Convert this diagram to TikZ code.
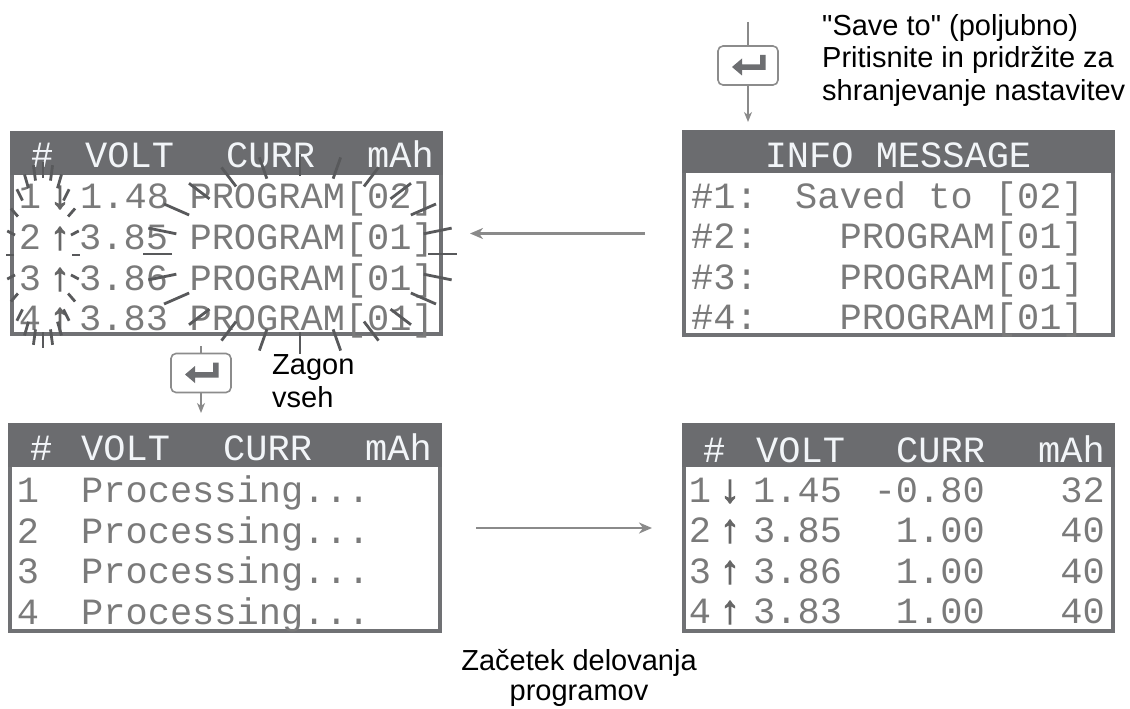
\documentclass[tikz,border=0pt]{standalone}
\usepackage{fontspec}
\setmainfont{Liberation Sans}
\newfontfamily\lblf{Liberation Sans}[Ligatures=TeXOff]
\newfontfamily\lcdf{Liberation Mono}[Ligatures=TeXOff]
\newfontfamily\arrf{Liberation Mono}[FakeBold=3]
\usetikzlibrary{arrows.meta}
\definecolor{hdr}{HTML}{6B6C6F}
\definecolor{lcdtxt}{HTML}{7A7A7A}
\definecolor{hdrtxt}{HTML}{F2F5F8}
\definecolor{framec}{HTML}{707174}
\definecolor{rayc}{HTML}{58595B}
\definecolor{connc}{HTML}{8A8A8A}
\definecolor{keyc}{HTML}{8C8C8C}
\definecolor{symc}{HTML}{6D6E71}
\definecolor{arrc}{HTML}{666666}
\tikzset{
  lcd/.style={font=\lcdf\fontsize{37}{37}\selectfont, text=lcdtxt, inner sep=0pt},
  lcdh/.style={lcd, text=hdrtxt},
  arrg/.style={font=\arrf\fontsize{39}{39}\selectfont, text=arrc, inner sep=0pt, anchor=base},
  lbl/.style={font=\lblf\fontsize{29}{32.5}\selectfont, inner sep=0pt, text=black},
  connline/.style={draw=connc, line width=2.2pt, -{Stealth[length=13pt,width=11pt,inset=4pt]}},
  keyline/.style={draw=connc, line width=1.4pt},
  keyarrow/.style={keyline, -{Stealth[length=10pt,width=8pt,inset=3pt]}},
  enterkey/.style={draw=keyc, line width=1.6pt, rounded corners=5pt, minimum width=60pt, minimum height=39pt, inner sep=0pt, fill=white},
  rayline/.style={draw=rayc, line width=2.8pt},
  lcdframe/.style={draw=framec, line width=4pt, fill=white, inner sep=0pt},
}
\newcommand\mylcdbox[6]{%
  \node[lcdframe, minimum width={(#4)-(#2)-4}, minimum height={(#5)-(#3)-4}] (#1) at ({((#2)+(#4))/2},{((#3)+(#5))/2}) {};
  \fill[hdr] (#2,#3) rectangle (#4,#6);
}
\newcommand\myentersym[1]{%
  \begin{scope}[shift={(#1.center)}]
    \fill[symc] (-16,1.5) -- (-6,-7) -- (-6,-1) -- (12,-1) -- (12,-10.5) -- (17.5,-10.5) -- (17.5,4.5) -- (-6,4.5) -- (-6,10) -- cycle;
  \end{scope}
}
\begin{document}
\begin{tikzpicture}[x=1pt,y=-1pt]
\useasboundingbox (0,0) rectangle (1130,709);

% ---------- boxes ----------
\mylcdbox{tl}{10}{131}{443}{336}{175}
\mylcdbox{tr}{682}{130}{1115}{337}{173}
\mylcdbox{bl}{8}{423}{442}{633}{467}
\mylcdbox{br}{682}{423}{1115}{633}{467}

% ---------- TL text ----------
\node[lcdh, anchor=base west] (tlh1) at (31,167) {\#};
\node[lcdh, anchor=base west] (tlh2) at (85,167) {VOLT};
\node[lcdh, anchor=base west] (tlh3) at (226,167) {CURR};
\node[lcdh, anchor=base east] (tlh4) at (434,167) {mAh};
\node[lcd, anchor=base] (tl1a) at (30,208) {1};
\node[arrg] (tl1b) at (60,208) {↓};
\node[lcd, anchor=base west] (tl1c) at (80,208) {1.48};
\node[lcd, anchor=base east] (tl1d) at (434,208) {PROGRAM[02]};
\node[lcd, anchor=base] (tl2a) at (30,249) {2};
\node[arrg] (tl2b) at (60,249) {↑};
\node[lcd, anchor=base west] (tl2c) at (79,249) {3.85};
\node[lcd, anchor=base east] (tl2d) at (434,249) {PROGRAM[01]};
\node[lcd, anchor=base] (tl3a) at (30,290) {3};
\node[arrg] (tl3b) at (60,290) {↑};
\node[lcd, anchor=base west] (tl3c) at (79,290) {3.86};
\node[lcd, anchor=base east] (tl3d) at (434,290) {PROGRAM[01]};
\node[lcd, anchor=base] (tl4a) at (30,330) {4};
\node[arrg] (tl4b) at (60,330) {↑};
\node[lcd, anchor=base west] (tl4c) at (79,330) {3.83};
\node[lcd, anchor=base east] (tl4d) at (434,330) {PROGRAM[01]};

% ---------- TR text ----------
\node[lcdh, anchor=base] (trh) at (898,167) {INFO MESSAGE};
\node[lcd, anchor=base west] (tr1a) at (691,208) {\#1:};
\node[lcd, anchor=base east] (tr1b) at (1084,208) {Saved to [02]};
\node[lcd, anchor=base west] (tr2a) at (691,248) {\#2:};
\node[lcd, anchor=base east] (tr2b) at (1084,248) {PROGRAM[01]};
\node[lcd, anchor=base west] (tr3a) at (691,289) {\#3:};
\node[lcd, anchor=base east] (tr3b) at (1084,289) {PROGRAM[01]};
\node[lcd, anchor=base west] (tr4a) at (691,329) {\#4:};
\node[lcd, anchor=base east] (tr4b) at (1084,329) {PROGRAM[01]};

% ---------- BL text ----------
\node[lcdh, anchor=base west] (blh1) at (30,460) {\#};
\node[lcdh, anchor=base west] (blh2) at (81,460) {VOLT};
\node[lcdh, anchor=base west] (blh3) at (223,460) {CURR};
\node[lcdh, anchor=base east] (blh4) at (432,460) {mAh};
\node[lcd, anchor=base] (bl1a) at (28,502) {1};
\node[lcd, anchor=base west] (bl1b) at (81,502) {Processing...};
\node[lcd, anchor=base] (bl2a) at (28,543) {2};
\node[lcd, anchor=base west] (bl2b) at (81,543) {Processing...};
\node[lcd, anchor=base] (bl3a) at (28,583) {3};
\node[lcd, anchor=base west] (bl3b) at (81,583) {Processing...};
\node[lcd, anchor=base] (bl4a) at (28,624) {4};
\node[lcd, anchor=base west] (bl4b) at (81,624) {Processing...};

% ---------- BR text ----------
\node[lcdh, anchor=base west] (brh1) at (703,462) {\#};
\node[lcdh, anchor=base west] (brh2) at (756,462) {VOLT};
\node[lcdh, anchor=base west] (brh3) at (896,462) {CURR};
\node[lcdh, anchor=base east] (brh4) at (1105,462) {mAh};
\node[lcd, anchor=base] (br1a) at (700,502) {1};
\node[arrg] (br1b) at (730,502) {↓};
\node[lcd, anchor=base west] (br1c) at (753,502) {1.45};
\node[lcd, anchor=base east] (br1d) at (985,502) {-0.80};
\node[lcd, anchor=base east] (br1e) at (1105,502) {32};
\node[lcd, anchor=base] (br2a) at (700,542) {2};
\node[arrg] (br2b) at (730,542) {↑};
\node[lcd, anchor=base west] (br2c) at (753,542) {3.85};
\node[lcd, anchor=base east] (br2d) at (985,542) {1.00};
\node[lcd, anchor=base east] (br2e) at (1105,542) {40};
\node[lcd, anchor=base] (br3a) at (700,583) {3};
\node[arrg] (br3b) at (730,583) {↑};
\node[lcd, anchor=base west] (br3c) at (753,583) {3.86};
\node[lcd, anchor=base east] (br3d) at (985,583) {1.00};
\node[lcd, anchor=base east] (br3e) at (1105,583) {40};
\node[lcd, anchor=base] (br4a) at (700,623) {4};
\node[arrg] (br4b) at (730,623) {↑};
\node[lcd, anchor=base west] (br4c) at (753,623) {3.83};
\node[lcd, anchor=base east] (br4d) at (985,623) {1.00};
\node[lcd, anchor=base east] (br4e) at (1105,623) {40};

% ---------- flashing rays ----------
\foreach \t in {0,15,...,345} {
  \draw[rayline] ({43+29*cos(\t)},{255+77*sin(\t)}) -- ({43+37*cos(\t)},{255+93*sin(\t)});
  \draw[rayline] ({300+128*cos(\t)},{254+78*sin(\t)}) -- ({300+157*cos(\t)},{254+100*sin(\t)});
}

% ---------- enter keys ----------
\node[enterkey] (k1) at (748,65.5) {};
\myentersym{k1}
\coordinate (k1in) at (748,22);
\coordinate (k1out) at (748,122);
\draw[keyline] (k1in) -- (k1.north);
\draw[keyarrow] (k1.south) -- (k1out);

\node[enterkey] (k2) at (201,373) {};
\myentersym{k2}
\coordinate (k2in) at (201,346);
\coordinate (k2out) at (201,413);
\draw[keyline] (k2in) -- (k2.north);
\draw[keyarrow] (k2.south) -- (k2out);

% ---------- connectors ----------
\draw[connline, shorten <=37pt, shorten >=27pt] (tr.west) -- (tl.east);
\draw[connline, shorten <=34pt, shorten >=30pt] (bl.east) -- (br.west);

% ---------- labels ----------
\node[lbl, align=left, anchor=north west] (savelbl) at (822,14) {"Save to" (poljubno)\\Pritisnite in pridržite za\\shranjevanje nastavitev};
\node[lbl, align=left, anchor=north west, font=\lblf\fontsize{29}{33}\selectfont] (zagon) at (272,354) {Zagon\\vseh};
\node[lbl, align=center, anchor=north, font=\lblf\fontsize{29}{30}\selectfont] (zacetek) at (579,649) {Začetek delovanja\\programov};
\end{tikzpicture}
\end{document}
